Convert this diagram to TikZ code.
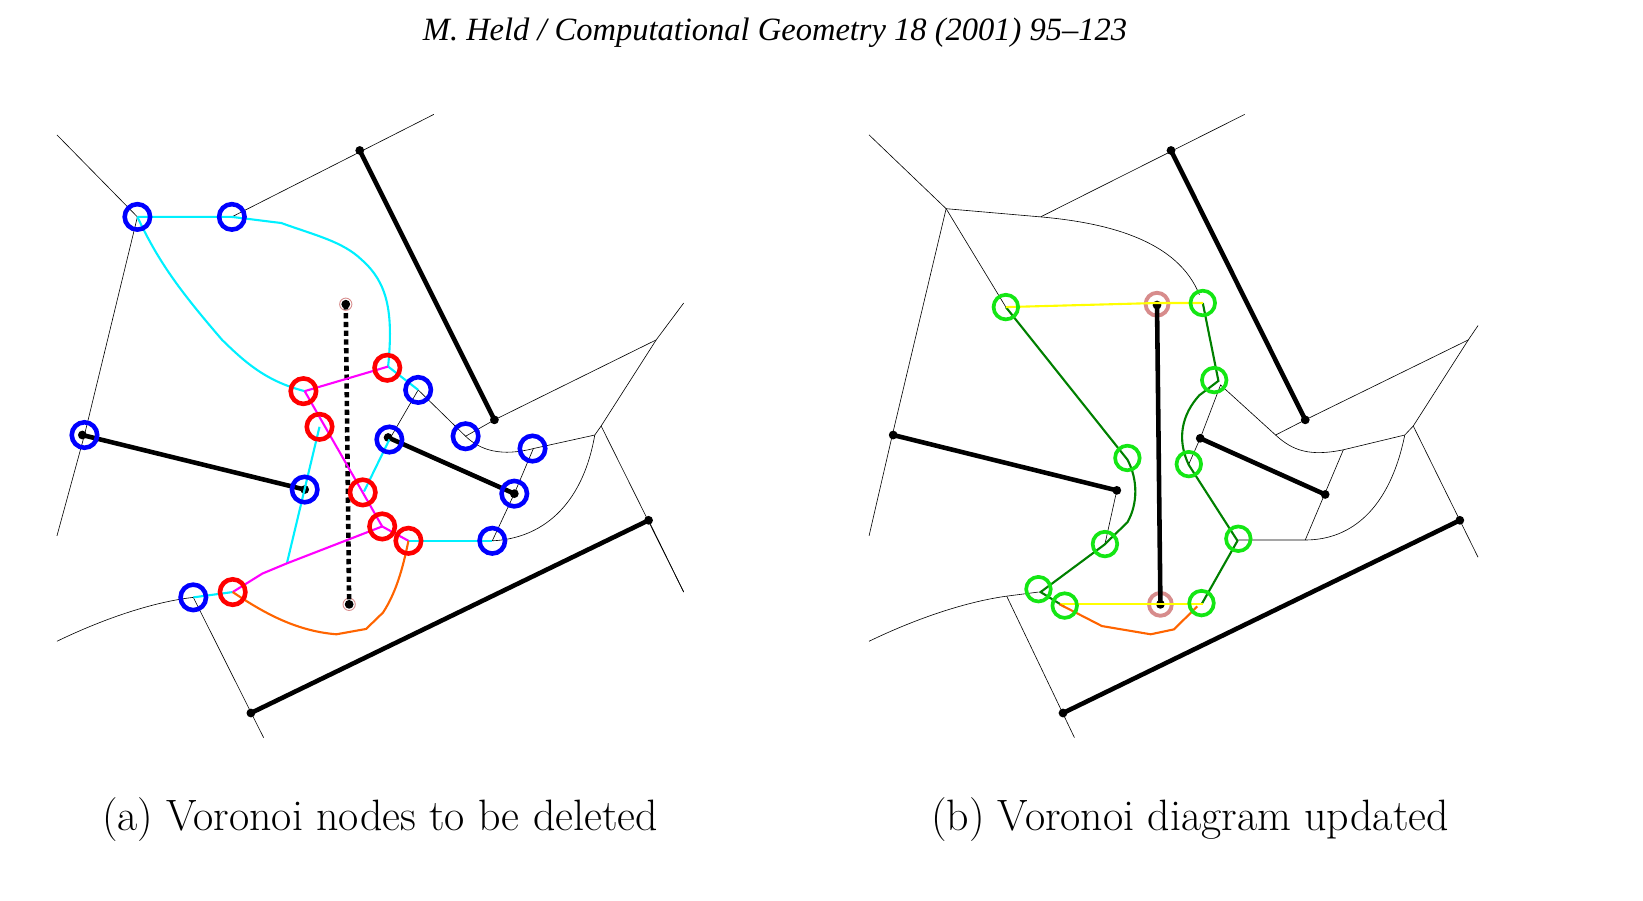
\documentclass[tikz,border=0pt]{standalone}
\usepackage{fontspec}
\newfontfamily\timesf{Liberation Serif}
\definecolor{orng}{RGB}{255,100,0}
\definecolor{pnk}{RGB}{215,140,140}
\definecolor{cyn}{RGB}{0,240,255}
\definecolor{mgt}{RGB}{255,0,255}
\definecolor{grn}{RGB}{20,230,20}
\definecolor{dgrn}{RGB}{0,128,0}
\definecolor{ylw}{RGB}{255,255,0}
\begin{document}
\begin{tikzpicture}[x=0.02cm,y=-0.02cm,
  thin line/.style={line width=0.35pt,black},
  seg/.style={line width=2.6pt,black},
  dot/.style={circle,fill=black,inner sep=0pt,minimum size=5pt},
  bc/.style={circle,draw=blue,line width=2.6pt,inner sep=0pt,minimum size=14.5pt},
  rc/.style={circle,draw=red,line width=2.6pt,inner sep=0pt,minimum size=14.5pt},
  gc/.style={circle,draw=grn,line width=2.1pt,inner sep=0pt,minimum size=14pt},
  pk/.style={circle,draw=pnk,line width=0.5pt,inner sep=0pt,minimum size=7pt},
  pkb/.style={circle,draw=pnk,line width=2.2pt,inner sep=0pt,minimum size=13pt},
  cy/.style={line width=1.2pt,cyn},
  mg/.style={line width=1.2pt,mgt},
  og/.style={line width=1.2pt,orng},
  dg/.style={line width=1.2pt,dgrn},
  yl/.style={line width=1.2pt,ylw},
  captext/.style={font=\fontsize{25}{30}\selectfont}]
\useasboundingbox (0,0) rectangle (1643,901);
\node[font=\timesf\itshape\fontsize{18.5}{22}\selectfont] (title) at (775,33) {M. Held / Computational Geometry 18 (2001) 95–123};
\node[captext] (capa) at (380,820) {(a) Voronoi nodes to be deleted};
\node[captext] (capb) at (1190,820) {(b) Voronoi diagram updated};

% ---------------- panel (a)
\begin{scope}[shift={(40,98)},xscale=0.4235,yscale=0.41]
\coordinate (aT1) at (40,90); \coordinate (aT2) at (40,1068); \coordinate (aT3) at (930,40);
\coordinate (aT4) at (1455,590); \coordinate (aT5) at (1520,500); \coordinate (aJ) at (1325,800);
\coordinate (aJ2) at (1310,822); \coordinate (aT6) at (1520,1205); \coordinate (aT7) at (40,1325);
\coordinate (aT8) at (528,1560);
\coordinate (aH) at (583,1135);
\draw[thin line] (aT1) -- (230,290) -- (105,822) -- (aT2);
\draw[thin line] (453,290) -- (aT3);
\draw[thin line] (1073,785) -- (aT4) -- (aT5);
\draw[thin line] (aT4) -- (aJ) -- (aT6);
\draw[thin line] (aJ) -- (aJ2) -- (1165,855) .. controls (1090,875) and (1040,860) .. (1005,825) -- (893,712);
\draw[thin line] (1005,825) -- (1073,785);
\draw[thin line] (aJ2) .. controls (1280,1000) and (1180,1075) .. (1068,1080);
\draw[thin line] (893,712) -- (825,833);
\draw[thin line] (1165,855) -- (1120,965) -- (1068,1080);
\draw[thin line] (aT7) .. controls (140,1275) and (260,1230) .. (362,1218) -- (aT8);
\draw[thin line] (1437,1030) -- (aT6);
\node[dot] (aS1a) at (755,128) {}; \node[dot] (aS1b) at (1073,785) {};
\node[dot] (aS2a) at (100,822) {}; \node[dot] (aS2b) at (625,955) {};
\node[dot] (aS3a) at (822,828) {}; \node[dot] (aS3b) at (1120,965) {};
\node[dot] (aS4a) at (498,1500) {}; \node[dot] (aS4b) at (1437,1030) {};
\draw[seg] (aS1a.center) -- (aS1b.center);
\draw[seg] (aS2a.center) -- (aS2b.center);
\draw[seg] (aS3a.center) -- (aS3b.center);
\draw[seg] (aS4a.center) -- (aS4b.center);
\node[dot] (aPa) at (722,503) {}; \node[dot] (aPb) at (730,1235) {};
\node[pk] (aPca) at (722,503) {}; \node[pk] (aPcb) at (730,1235) {};
\draw[line width=2.6pt,dash pattern=on 3pt off 2pt] (aPa.center) -- (aPb.center);
\draw[cy] (230,290) -- (453,290) -- (570,305) .. controls (650,335) and (715,350) .. (760,395) .. controls (820,450) and (835,520) .. (822,655);
\draw[cy] (230,290) .. controls (280,400) and (330,470) .. (430,590) .. controls (480,640) and (530,690) .. (625,715);
\draw[cy] (822,655) -- (893,712);
\draw[cy] (660,802) -- (aH);
\draw[cy] (825,833) -- (765,960);
\draw[cy] (870,1080) -- (1068,1080);
\draw[cy] (362,1218) -- (455,1205);
\draw[mg] (625,715) -- (822,655);
\draw[mg] (625,715) -- (808,1045) -- (870,1080);
\draw[mg] (808,1045) -- (aH) -- (525,1160) -- (455,1205);
\draw[og] (455,1205) .. controls (520,1250) and (600,1300) .. (700,1308) -- (770,1295) -- (810,1255) .. controls (845,1200) and (860,1130) .. (870,1080);
\foreach \n/\p in {1/{(230,290)},2/{(453,290)},3/{(893,712)},4/{(1005,825)},5/{(1163,855)},6/{(825,833)},7/{(1120,965)},8/{(625,955)},9/{(105,822)},10/{(1068,1080)},11/{(362,1218)}}
  \node[bc] (ab\n) at \p {};
\foreach \n/\p in {1/{(820,658)},2/{(622,715)},3/{(660,802)},4/{(762,962)},5/{(808,1045)},6/{(870,1080)},7/{(455,1205)}}
  \node[rc] (ar\n) at \p {};
\end{scope}

% ---------------- panel (b)
\begin{scope}[shift={(814,98)},xscale=0.4235,yscale=0.41]
\coordinate (bT1) at (130,90); \coordinate (bT2) at (130,1068); \coordinate (bT3) at (1017,40);
\coordinate (bV) at (312,270); \coordinate (bW) at (535,290);
\coordinate (bT4) at (1545,590); \coordinate (bT5) at (1568,555); \coordinate (bJ) at (1415,800);
\coordinate (bJ2) at (1395,822); \coordinate (bT6) at (1568,1120); \coordinate (bT7) at (130,1325);
\coordinate (bT8) at (615,1560); \coordinate (bK) at (1090,822); \coordinate (bL) at (1250,858);
\coordinate (bM) at (1160,1078);
\draw[thin line] (bT1) -- (bV) -- (185,822) -- (bT2);
\draw[thin line] (bV) -- (bW) .. controls (700,305) and (860,350) .. (910,480);
\draw[thin line] (bW) -- (bT3);
\draw[thin line] (bV) -- (453,510);
\draw[thin line] (1160,785) -- (bT4) -- (bT5);
\draw[thin line] (bT4) -- (bJ) -- (bT6);
\draw[thin line] (bJ) -- (bJ2) -- (bL) .. controls (1170,875) and (1130,860) .. (bK) -- (960,700) -- (912,830);
\draw[thin line] (bK) -- (1160,785);
\draw[thin line] (bL) -- (bM);
\draw[thin line] (bJ2) .. controls (1360,1000) and (1270,1078) .. (bM) -- (1002,1078);
\draw[thin line] (912,830) -- (885,893);
\draw[thin line] (715,957) -- (687,1088);
\draw[thin line] (bT7) .. controls (230,1275) and (350,1230) .. (455,1215) -- (530,1205);
\draw[thin line] (455,1215) -- (bT8);
\node[dot] (bS1a) at (843,128) {}; \node[dot] (bS1b) at (1160,785) {};
\node[dot] (bS2a) at (187,822) {}; \node[dot] (bS2b) at (715,957) {};
\node[dot] (bS3a) at (912,830) {}; \node[dot] (bS3b) at (1207,967) {};
\node[dot] (bS4a) at (588,1500) {}; \node[dot] (bS4b) at (1525,1030) {};
\node[dot] (bPa) at (810,505) {}; \node[dot] (bPb) at (818,1235) {};
\draw[seg] (bS1a.center) -- (bS1b.center);
\draw[seg] (bS2a.center) -- (bS2b.center);
\draw[seg] (bS3a.center) -- (bS3b.center);
\draw[seg] (bS4a.center) -- (bS4b.center);
\node[pkb] (bPca) at (810,503) {}; \node[pkb] (bPcb) at (818,1235) {};
\draw[seg] (bPa.center) -- (bPb.center);
\draw[dg] (453,510) -- (740,882) .. controls (765,930) and (765,990) .. (740,1035) -- (685,1090) -- (535,1205) -- (590,1240);
\draw[dg] (918,500) -- (955,690) -- (910,725) .. controls (870,770) and (855,830) .. (885,895) -- (1000,1080) -- (915,1235);
\draw[yl] (453,510) -- (810,500) -- (918,500);
\draw[yl] (580,1235) -- (918,1235);
\draw[og] (580,1235) -- (680,1288) -- (795,1308) -- (850,1296) -- (905,1240);
\foreach \n/\p in {1/{(453,510)},2/{(918,500)},3/{(945,688)},4/{(740,878)},5/{(885,893)},6/{(1002,1075)},7/{(687,1088)},8/{(530,1198)},9/{(592,1238)},10/{(915,1232)}}
  \node[gc] (bg\n) at \p {};
\end{scope}
\end{tikzpicture}
\end{document}
